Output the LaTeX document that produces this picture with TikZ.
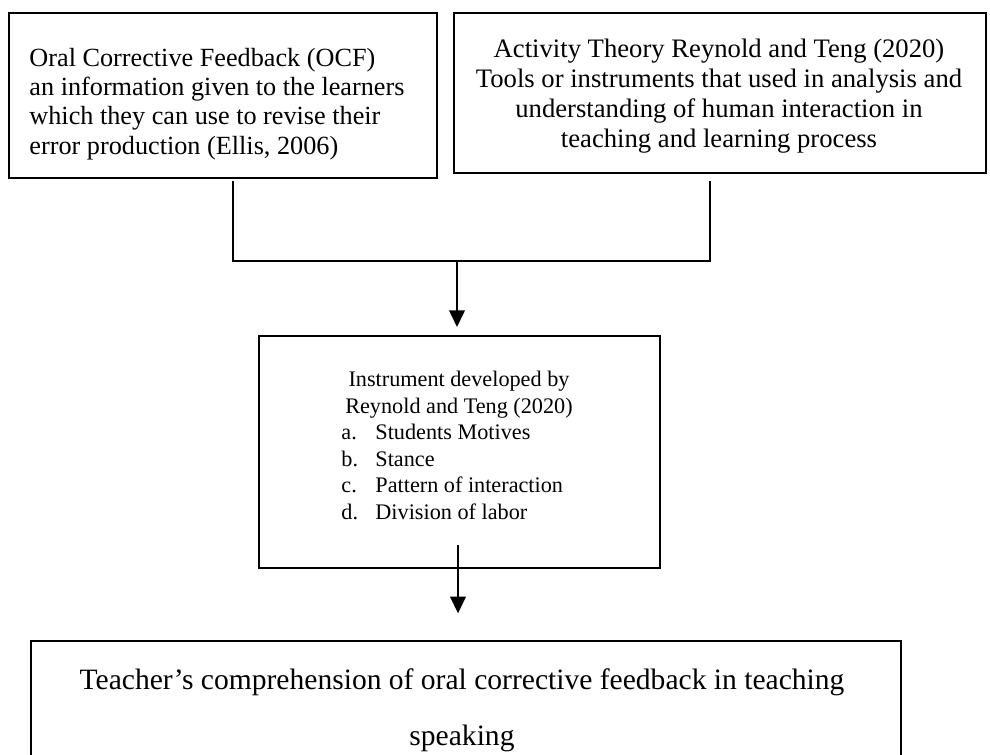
\documentclass[tikz,border=0pt]{standalone}
\usepackage{fontspec}
\setmainfont{Liberation Serif}
\usetikzlibrary{arrows.meta}
\begin{document}
\begin{tikzpicture}[x=0.45pt,y=-0.45pt,
  box/.style={draw, line width=0.9pt, inner sep=0pt, anchor=north west},
  conn/.style={line width=0.9pt},
  arr/.style={conn, -{Triangle[length=7.5pt,width=7pt]}},
  txtA/.style={font=\fontsize{11.8}{13.2}\selectfont, inner sep=0pt},
  txtA2/.style={font=\fontsize{12}{13.5}\selectfont, inner sep=0pt},
  txtB/.style={font=\fontsize{10}{11.9}\selectfont, inner sep=0pt},
  txtC/.style={font=\fontsize{13.3}{25}\selectfont, inner sep=0pt}]
\useasboundingbox (0,0) rectangle (990,754);
\clip (0,0) rectangle (990,754);
% boxes
\node[box, minimum width=192.6pt, minimum height=74.25pt] (b1) at (8,12) {};
\node[box, minimum width=239.4pt, minimum height=72pt] (b2) at (453,12) {};
\node[box, minimum width=180.45pt, minimum height=104.4pt] (b3) at (258,335) {};
\node[box, minimum width=391.5pt, minimum height=72pt] (b4) at (30,640) {};
% texts (base anchor = baseline of last line)
\node[txtA, anchor=base west, align=left] (t1) at (29,154)
  {Oral Corrective Feedback (OCF)\\an information given to the learners\\which they can use to revise their\\error production (Ellis, 2006)};
\node[txtA2, anchor=base, align=center] (t2) at (719,147)
  {Activity Theory Reynold and Teng (2020)\\Tools or instruments that used in analysis and\\understanding of human interaction in\\teaching and learning process};
\node[txtB, anchor=base, align=center] (t3) at (459,413)
  {Instrument developed by\\Reynold and Teng (2020)};
\node[txtB, anchor=base west, align=left] (t3a) at (341,519)
  {a.\\b.\\c.\\d.};
\node[txtB, anchor=base west, align=left] (t3b) at (375,519)
  {Students Motives\\Stance\\Pattern of interaction\\Division of labor};
\node[txtC, anchor=base, align=center] (t4) at (462,745)
  {Teacher’s comprehension of oral corrective feedback in teaching\\speaking};
% connectors
\coordinate (l1) at (233,181);
\coordinate (r1) at (710,181);
\coordinate (l2) at (233,261);
\coordinate (r2) at (710,261);
\coordinate (m1) at (457,261);
\coordinate (a2s) at (458,545);
\draw[conn] (l1) -- (l2) -- (r2) -- (r1);
\draw[arr] (m1) -- ([yshift=3.6pt]b3.north -| m1);
\draw[arr] (a2s) -- ([yshift=12pt]b4.north -| a2s);
\end{tikzpicture}
\end{document}
